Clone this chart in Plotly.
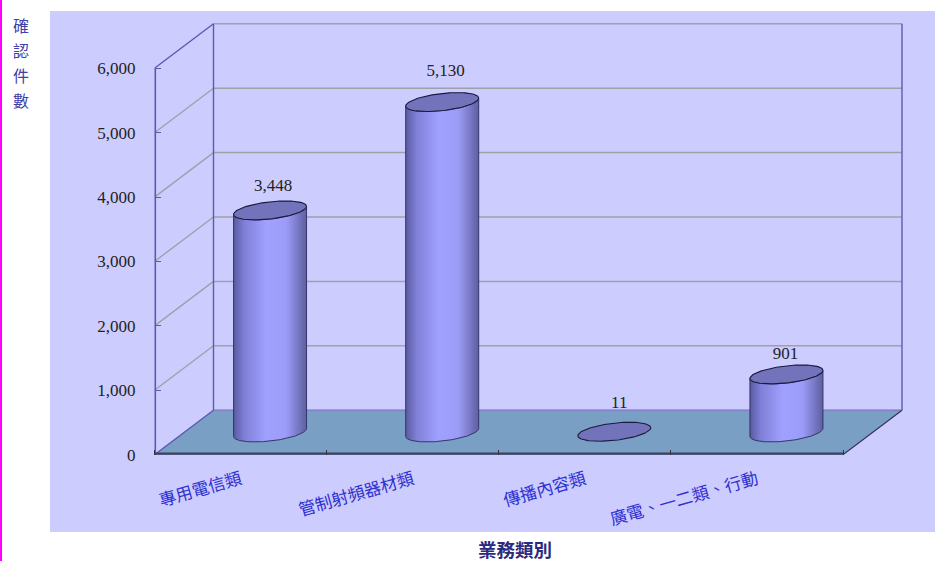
import numpy as np
import plotly.graph_objects as go

categories = ["專用電信類", "管制射頻器材類", "傳播內容類", "廣電、一二類、行動"]
values = [3448, 5130, 11, 901]
y_ticks = [0, 1000, 2000, 3000, 4000, 5000, 6000]
y_title_chars = ["確", "認", "件", "數"]
x_title = "業務類別"

W, H = 935, 561
X0, X1, Y0, Y1 = 154.5, 843.0, 454.7, 68.3      # front plane in pixels
PLOT_RIGHT, PLOT_TOP = 910.0, 15.0              # plot rect reaches past the back wall
PX_X = (X1 - X0) / 4
PX_Y = (Y0 - Y1) / 6000
DEPTH_X = 59 / PX_X                             # oblique depth in axis units
DEPTH_Y = 44.5 / PX_Y
R_X = 36.5 / PX_X                               # cylinder ellipse
R_Y = 8.6 / PX_Y
TILT = 4.0 / PX_Y
LABEL_DX = [3 / PX_X, 3.5 / PX_X, 5 / PX_X, -1 / PX_X]
LABEL_DY = [23.6 / PX_Y, 30 / PX_Y, 28 / PX_Y, 19.2 / PX_Y]

AXIS_BLUE = "#5A5AB0"
GRID = "#A0A0A8"
INK = "#222222"
CAT_BLUE = "#3030D0"
TITLE_BLUE = "#4040A8"

fig = go.Figure()


def line(xs, ys, color, width=1.0, fill=None):
    fig.add_trace(go.Scatter(
        x=xs, y=ys, mode="lines",
        line=dict(color=color, width=width), fill="toself" if fill else None,
        fillcolor=fill, hoverinfo="skip", showlegend=False))


top = y_ticks[-1]
# floor
line([0, DEPTH_X, 4 + DEPTH_X, 4, 0], [0, DEPTH_Y, DEPTH_Y, 0, 0], "#7A9FC4", 0.5, fill="#7A9FC4")
# gridlines on side and back wall
for v in y_ticks[1:]:
    c = AXIS_BLUE if v == top else GRID
    line([0, DEPTH_X], [v, v + DEPTH_Y], c, 1.4)
    line([DEPTH_X, 4 + DEPTH_X], [v + DEPTH_Y, v + DEPTH_Y], GRID, 1.5)
# wall edges
line([DEPTH_X, DEPTH_X], [DEPTH_Y, top + DEPTH_Y], AXIS_BLUE, 1.4)
line([4 + DEPTH_X, 4 + DEPTH_X], [DEPTH_Y, top + DEPTH_Y], AXIS_BLUE, 1.4)
line([DEPTH_X, 4 + DEPTH_X], [DEPTH_Y, DEPTH_Y], "#8080C8", 1.4)
line([0, DEPTH_X], [0, DEPTH_Y], AXIS_BLUE, 1.4)
line([4, 4 + DEPTH_X], [0, DEPTH_Y], "#333355", 1.2)
# front axis lines (half of the width is clipped at the plot edge)
line([0, 0], [0, top], AXIS_BLUE, 3.2)
line([0, 4], [0, 0], "#3E3E60", 4.5)

# cylinders
t_front = np.linspace(np.pi, 2 * np.pi, 60)
t_all = np.linspace(0, 2 * np.pi, 120)
for i, val in enumerate(values):
    cx = i + 0.5 + DEPTH_X / 2
    base = DEPTH_Y / 2
    tip = val + base


    def ex(t):
        return cx + R_X * np.cos(t)


    def ey(t, level):
        return level + R_Y * np.sin(t) + TILT * np.cos(t)


    if val > 100:
        sx = np.concatenate([ex(t_front), ex(t_front[::-1])])
        sy = np.concatenate([ey(t_front, base), ey(t_front[::-1], tip)])
        fig.add_trace(go.Scatter(
            x=np.append(sx, sx[0]), y=np.append(sy, sy[0]), mode="lines",
            line=dict(color="#34346A", width=1), fill="toself",
            fillgradient=dict(type="horizontal", colorscale=[
                [0, "#5A5AA0"], [0.15, "#8080D8"], [0.45, "#A0A0FF"],
                [0.72, "#9C9CF8"], [1, "#5E5EA0"]]),
            hoverinfo="skip", showlegend=False))
    line(ex(t_all), ey(t_all, tip), "#1A1A40", 1.1, fill="#7373BC")

# value labels
fig.add_trace(go.Scatter(
    x=[i + 0.5 + DEPTH_X / 2 + LABEL_DX[i] for i in range(4)],
    y=[v + DEPTH_Y / 2 + LABEL_DY[i] for i, v in enumerate(values)],
    text=[f"{v:,}" for v in values], mode="text", cliponaxis=False,
    textposition="middle center",
    textfont=dict(family="Liberation Serif", size=17, color=INK),
    hoverinfo="skip", showlegend=False))

annotations = [
    dict(text=ch, x=21 / W, y=1 - (25 + 25 * i) / H, xref="paper", yref="paper",
         showarrow=False, xanchor="center", yanchor="middle",
         font=dict(family="Noto Sans CJK TC", size=16, color=TITLE_BLUE))
    for i, ch in enumerate(y_title_chars)
]
annotations.append(dict(
    text=f"<b>{x_title}</b>", x=515 / W, y=1 - 549 / H, xref="paper", yref="paper",
    showarrow=False, xanchor="center", yanchor="middle",
    font=dict(family="Noto Sans CJK TC", size=18.5, color="#2A2A80")))

fig.update_layout(
    template="none",
    width=W, height=H, margin=dict(l=0, r=0, t=0, b=0, pad=0),
    paper_bgcolor="white", plot_bgcolor="rgba(0,0,0,0)", showlegend=False,
    font=dict(family="Liberation Serif"),
    annotations=annotations,
    shapes=[
        dict(type="rect", xref="paper", yref="paper", layer="below",
             x0=50 / W, x1=1, y0=1 - 532 / H, y1=1 - 11 / H,
             fillcolor="#CCCCFF", line=dict(width=0)),
        dict(type="rect", xref="paper", yref="paper", layer="below",
             x0=0, x1=2 / W, y0=0, y1=1, fillcolor="#FF00FF", line=dict(width=0)),
    ],
    xaxis=dict(
        automargin=False,
        domain=[X0 / W, PLOT_RIGHT / W], range=[0, (PLOT_RIGHT - X0) / PX_X], tickmode="array",
        tickvals=[i + 0.5 for i in range(4)], ticktext=categories, tickangle=-16,
        ticks="", showgrid=False, zeroline=False, showline=False, ticklabelstandoff=11,
        minor=dict(tickmode="array", tickvals=[0, 1, 2, 3, 4], ticks="inside",
                   ticklen=5, tickcolor="#333344", showgrid=False),
        tickfont=dict(family="Noto Sans CJK TC", size=17, color=CAT_BLUE)),
    yaxis=dict(
        automargin=False,
        domain=[1 - Y0 / H, 1 - PLOT_TOP / H], range=[0, (Y0 - PLOT_TOP) / PX_Y], tickmode="array",
        tickvals=y_ticks, tickformat=",", ticks="inside", ticklen=6,
        tickcolor=AXIS_BLUE, showline=False,
        showgrid=False, zeroline=False, ticklabelstandoff=18,
        tickfont=dict(family="Liberation Serif", size=17, color=INK)),
)

fig.write_html("out.html", config={"displayModeBar": False},
               post_script="document.body.style.margin='0';")
